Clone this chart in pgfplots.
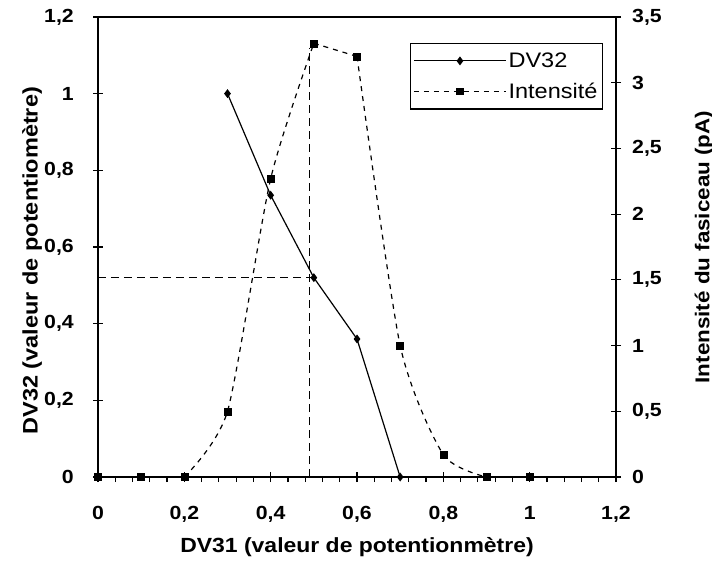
\documentclass[border=0pt]{standalone}
\usepackage{fontspec}
\setmainfont{Liberation Sans}[FakeStretch=1.12]
\usepackage{pgfplots}
\pgfplotsset{compat=1.18}
\begin{document}
\begin{tikzpicture}
\pgfplotsset{
  every axis/.append style={
    scale only axis, width=518bp, height=460bp,
    xmin=0, xmax=1.2,
    /pgf/number format/assume math mode=true,
    /pgf/number format/use comma,
    tick label style={font=\fontsize{19bp}{22bp}\selectfont\bfseries, inner sep=0pt},
    axis line style={line width=1.6bp},
    major tick length=10bp,
    minor tick length=5bp,
    tick align=center,
    every tick/.style={black, line width=1.2bp},
    clip=false,
  },
  intens/.style={black, line width=1.2bp, dash pattern=on 5bp off 5bp},
}
\begin{axis}[
  ymin=0, ymax=1.2,
  xtick={0,0.2,0.4,0.6,0.8,1,1.2},
  ytick={0,0.2,0.4,0.6,0.8,1,1.2},
  minor x tick num=4,
  xtick pos=bottom, ytick pos=left,
  minor x tick style={yshift=-2.5bp},
  xticklabel style={anchor=base, yshift=-37bp},
  yticklabel style={anchor=east, xshift=-19bp},
  xlabel={DV31 (valeur de potentionmètre)},
  ylabel={DV32 (valeur de potentiomètre)},
  every axis x label/.style={at={(axis description cs:0.5,0)}, yshift=-70bp, anchor=center, font=\fontsize{20.5bp}{24bp}\selectfont\bfseries},
  every axis y label/.style={at={(axis description cs:0,0.47)}, xshift=-66bp, rotate=90, anchor=center, font=\fontsize{21bp}{24bp}\selectfont\bfseries},
  legend style={at={(0.975,0.943)}, anchor=north east, draw=black, line width=1.2bp, fill=white,
    font=\fontsize{21bp}{25bp}\selectfont, inner xsep=3bp, inner ysep=7bp, row sep=10bp,
    /tikz/every even column/.append style={column sep=1bp}},
  legend cell align=left,
  legend image code/.code={\draw[mark repeat=2, mark phase=2, #1] plot coordinates {(0bp,0bp) (46bp,0bp) (92bp,0bp)};},
]
\addplot[black, line width=1.2bp, mark=diamond*, mark size=3.5bp, mark options={solid}]
  coordinates {(0.3,1.0) (0.4,0.735) (0.5,0.52) (0.6,0.36) (0.7,0)};
\addlegendentry{DV32}
\addlegendimage{intens, mark=square*, mark size=3bp, mark options={solid}}
\addlegendentry{Intensité}
\addplot[forget plot, black, line width=1.6bp, dash pattern=on 8bp off 5bp]
  coordinates {(0,0.52) (0.5,0.52)};
\addplot[forget plot, black, line width=1.6bp, dash pattern=on 8bp off 5bp]
  coordinates {(0.49,0) (0.49,1.12)};
\end{axis}
\begin{axis}[
  ymin=0, ymax=3.5,
  axis y line*=right, axis x line=none,
  ytick={0,0.5,1,1.5,2,2.5,3,3.5},
  yticklabel style={anchor=west, xshift=11bp},
  ylabel={Intensité du fasiceau (pA)},
  every axis y label/.style={at={(axis description cs:1,0.5)}, xshift=88bp, rotate=90, anchor=center, font=\fontsize{20bp}{24bp}\selectfont\bfseries},
]
\addplot[intens] coordinates {(0,0) (0.1,0) (0.2,0)};
\addplot[intens, smooth, tension=0.4] coordinates {(0.2,0) (0.3,0.5) (0.4,2.27) (0.5,3.3)};
\addplot[intens] coordinates {(0.5,3.3) (0.6,3.2)};
\addplot[intens, smooth, tension=0.4] coordinates {(0.6,3.2) (0.7,1.0) (0.8,0.17) (0.9,0)};
\addplot[intens] coordinates {(0.9,0) (1.0,0)};
\addplot[only marks, black, mark=square*, mark size=3.5bp]
  coordinates {(0,0) (0.1,0) (0.2,0) (0.3,0.5) (0.4,2.27) (0.5,3.3) (0.6,3.2) (0.7,1.0) (0.8,0.17) (0.9,0) (1.0,0)};
\end{axis}
\pgfresetboundingbox
\path[use as bounding box] (-98bp,-88bp) rectangle (614bp,477bp);
\end{tikzpicture}
\end{document}
